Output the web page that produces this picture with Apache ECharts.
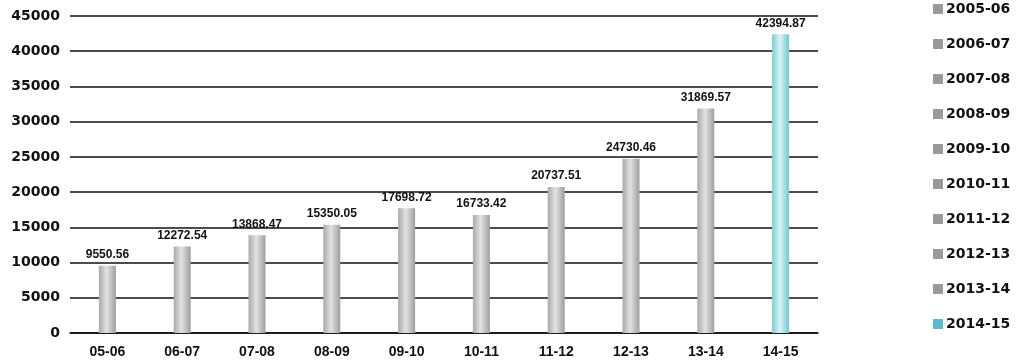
<!DOCTYPE html>
<html><head><meta charset="utf-8">
<script src="https://cdn.jsdelivr.net/npm/echarts@6/dist/echarts.min.js"></script>
<style>html,body{margin:0;padding:0;background:#fff}#c{width:1019px;height:362px}</style>
</head><body><div id="c"></div>
<script>
const categories = ['05-06','06-07','07-08','08-09','09-10','10-11','11-12','12-13','13-14','14-15'];
const seriesNames = ['2005-06','2006-07','2007-08','2008-09','2009-10','2010-11','2011-12','2012-13','2013-14','2014-15'];
const values = [9550.56, 12272.54, 13868.47, 15350.05, 17698.72, 16733.42, 20737.51, 24730.46, 31869.57, 42394.87];
const yTicks = [0, 5000, 10000, 15000, 20000, 25000, 30000, 35000, 40000, 45000];

const grey = {type:'linear',x:0,y:0,x2:1,y2:0,colorStops:[{offset:0,color:'#a9a9a9'},{offset:0.45,color:'#e2e2e2'},{offset:0.6,color:'#d0d0d0'},{offset:1,color:'#9e9e9e'}]};
const cyan = {type:'linear',x:0,y:0,x2:1,y2:0,colorStops:[{offset:0,color:'#7ccdd2'},{offset:0.45,color:'#d9f3f4'},{offset:0.6,color:'#bfe9eb'},{offset:1,color:'#74c8cd'}]};
const font = 'Liberation Sans, Arial, sans-serif';
const wide = 'DejaVu Sans, Verdana, sans-serif';

const series = seriesNames.map((name, i) => ({
  name,
  type: 'bar',
  stack: 'all',
  barWidth: 17,
  data: categories.map((c, j) => j === i ? values[i] : '-'),
  itemStyle: { color: i === 9 ? cyan : grey },
  label: {
    show: true, position: 'top', distance: 5,
    formatter: p => values[i].toFixed(2),
    fontFamily: font, fontWeight: 'bold',
    fontSize: 12, color: '#111'
  }
}));

const chart = echarts.init(document.getElementById('c'));
chart.setOption({
  animation: false,
  backgroundColor: '#fff',
  grid: { left: 70, right: 201, top: 16, bottom: 29, containLabel: false },
  legend: {
    orient: 'vertical', left: 928, top: -3, itemGap: 21,
    itemWidth: 10, itemHeight: 10, icon: 'rect',
    textStyle: { fontFamily: wide, fontWeight: 'bold', fontSize: 14, color: '#111', padding: [0,0,0,-2] },
    data: seriesNames.map((n, i) => ({ name: n, itemStyle: { color: i === 9 ? '#5fb8cf' : '#9a9a9a' } }))
  },
  xAxis: {
    type: 'category', data: categories,
    axisLine: { show: true, lineStyle: { color: '#111', width: 1.5 } },
    axisTick: { show: false },
    axisLabel: { fontFamily: font, fontWeight: 'bold', fontSize: 14, color: '#111', margin: 12 }
  },
  yAxis: {
    type: 'value', min: 0, max: 45000, interval: 5000,
    axisLine: { show: false }, axisTick: { show: false },
    splitLine: { lineStyle: { color: '#111', width: 1.5 } },
    axisLabel: { fontFamily: wide, fontWeight: 'bold', fontSize: 14, color: '#111', margin: 10,
      formatter: v => yTicks.includes(v) ? String(v) : '' }
  },
  series
});
</script></body></html>
